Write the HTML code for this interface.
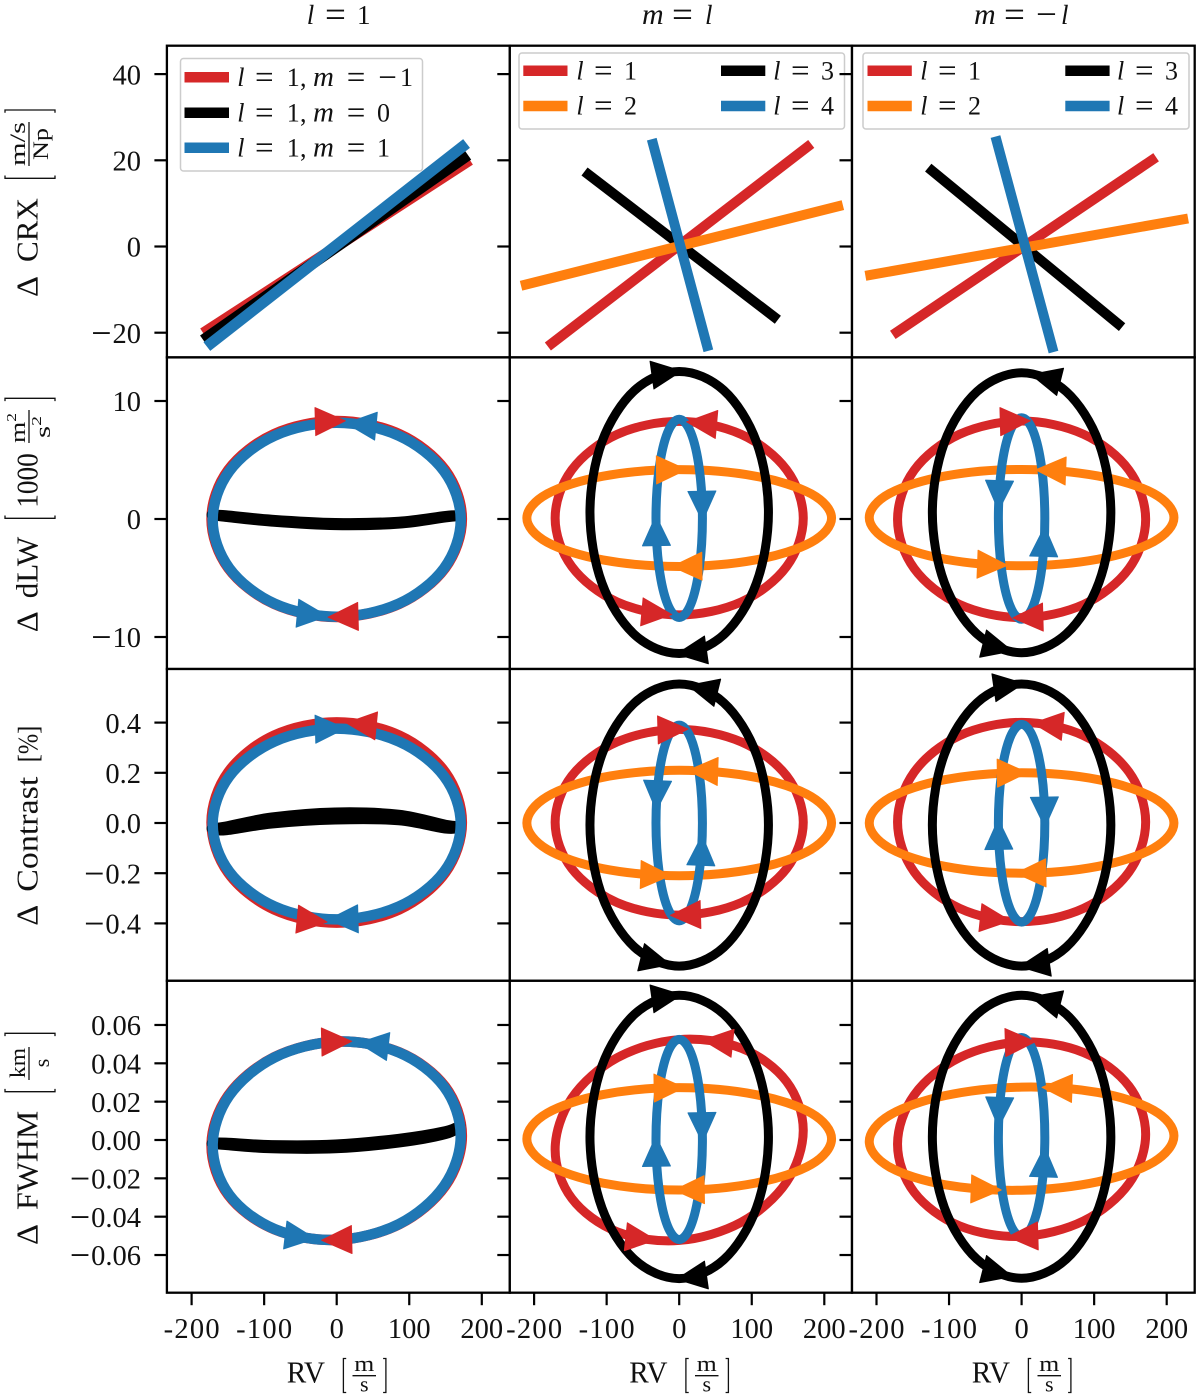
<!DOCTYPE html>
<html lang="en">
<head>
<meta charset="utf-8">
<title>Delta indicators versus RV for spherical harmonic modes</title>
<style>
html,body{margin:0;padding:0;background:#fff;}
svg{display:block;}
text{font-family:"Liberation Serif","DejaVu Serif",serif;fill:#111;}
.lab{font-size:31px;}
.frac{font-size:22px;}
.leg{font-size:26px;}
.leg .eq{font-size:33px;}
.leg .mi{font-size:29px;font-style:italic;}
.ttl{font-size:27px;}
.ttl .eq{font-size:37px;}
.ttl .mi{font-size:30px;font-style:italic;}
.br{fill:none;stroke:#111;stroke-width:1.3;}
.barline{stroke:#111;stroke-width:1.3;}
</style>
</head>
<body>
<svg id="figure" xmlns="http://www.w3.org/2000/svg" width="1200" height="1398" viewBox="0 0 1200 1398">
<rect x="0" y="0" width="1200" height="1398" fill="#fff"/>
<g id="panel-layer"></g>

<g>
<rect x="180.5" y="58.5" width="242" height="112.5" rx="3" fill="#fff" fill-opacity="0.8" stroke="#ccc" stroke-width="1.5"/>
<line x1="184.5" x2="229" y1="77.3" y2="77.3" stroke="#d62728" stroke-width="10.5"/>
<line x1="184.5" x2="229" y1="112.7" y2="112.7" stroke="#000" stroke-width="10.5"/>
<line x1="184.5" x2="229" y1="147.7" y2="147.7" stroke="#1f77b4" stroke-width="10.5"/>
<text class="leg" y="86"><tspan x="237.3" font-style="italic">l</tspan><tspan class="eq" x="255" y="88">=</tspan><tspan x="286.7" y="86">1</tspan><tspan x="300">,</tspan><tspan class="mi" x="313">m</tspan><tspan class="eq" x="346.7" y="88">=</tspan><tspan class="eq" x="378.3" y="88">−</tspan><tspan x="400" y="86">1</tspan></text>
<text class="leg" y="121.7"><tspan x="237.3" font-style="italic">l</tspan><tspan class="eq" x="255" y="123.7">=</tspan><tspan x="286.7" y="121.7">1</tspan><tspan x="300">,</tspan><tspan class="mi" x="313">m</tspan><tspan class="eq" x="346.7" y="123.7">=</tspan><tspan x="377" y="121.7">0</tspan></text>
<text class="leg" y="156.7"><tspan x="237.3" font-style="italic">l</tspan><tspan class="eq" x="255" y="158.7">=</tspan><tspan x="286.7" y="156.7">1</tspan><tspan x="300">,</tspan><tspan class="mi" x="313">m</tspan><tspan class="eq" x="346.7" y="158.7">=</tspan><tspan x="377" y="156.7">1</tspan></text>
</g>

<g>
<rect x="519" y="53" width="325.5" height="76" rx="3" fill="#fff" fill-opacity="0.8" stroke="#ccc" stroke-width="1.5"/>
<line x1="523.3" x2="567.5" y1="70.7" y2="70.7" stroke="#d62728" stroke-width="10.5"/>
<line x1="523.3" x2="567.5" y1="106" y2="106" stroke="#ff7f0e" stroke-width="10.5"/>
<line x1="721" x2="765.3" y1="70.7" y2="70.7" stroke="#000" stroke-width="10.5"/>
<line x1="721" x2="765.3" y1="106" y2="106" stroke="#1f77b4" stroke-width="10.5"/>
<text class="leg" y="79.3"><tspan x="576.4" font-style="italic">l</tspan><tspan class="eq" x="594" y="81.3">=</tspan><tspan x="624" y="79.3">1</tspan></text>
<text class="leg" y="114.7"><tspan x="576.4" font-style="italic">l</tspan><tspan class="eq" x="594" y="116.7">=</tspan><tspan x="624" y="114.7">2</tspan></text>
<text class="leg" y="79.3"><tspan x="773.3" font-style="italic">l</tspan><tspan class="eq" x="791" y="81.3">=</tspan><tspan x="821" y="79.3">3</tspan></text>
<text class="leg" y="114.7"><tspan x="773.3" font-style="italic">l</tspan><tspan class="eq" x="791" y="116.7">=</tspan><tspan x="821" y="114.7">4</tspan></text>
</g>

<g>
<rect x="863" y="53" width="326" height="76" rx="3" fill="#fff" fill-opacity="0.8" stroke="#ccc" stroke-width="1.5"/>
<line x1="867.5" x2="911.8" y1="70.7" y2="70.7" stroke="#d62728" stroke-width="10.5"/>
<line x1="867.5" x2="911.8" y1="106" y2="106" stroke="#ff7f0e" stroke-width="10.5"/>
<line x1="1065.3" x2="1109.6" y1="70.7" y2="70.7" stroke="#000" stroke-width="10.5"/>
<line x1="1065.3" x2="1109.6" y1="106" y2="106" stroke="#1f77b4" stroke-width="10.5"/>
<text class="leg" y="79.3"><tspan x="920.2" font-style="italic">l</tspan><tspan class="eq" x="938" y="81.3">=</tspan><tspan x="968" y="79.3">1</tspan></text>
<text class="leg" y="114.7"><tspan x="920.2" font-style="italic">l</tspan><tspan class="eq" x="938" y="116.7">=</tspan><tspan x="968" y="114.7">2</tspan></text>
<text class="leg" y="79.3"><tspan x="1117" font-style="italic">l</tspan><tspan class="eq" x="1135" y="81.3">=</tspan><tspan x="1165" y="79.3">3</tspan></text>
<text class="leg" y="114.7"><tspan x="1117" font-style="italic">l</tspan><tspan class="eq" x="1135" y="116.7">=</tspan><tspan x="1165" y="114.7">4</tspan></text>
</g>

<g id="tick-layer"></g>

<text class="ttl" y="24"><tspan x="306.7" font-style="italic">l</tspan><tspan class="eq" x="325" y="26.5">=</tspan><tspan x="357" y="24">1</tspan></text>
<text class="ttl" y="24"><tspan class="mi" x="642">m</tspan><tspan class="eq" x="672" y="26.5">=</tspan><tspan x="705" y="24" font-style="italic">l</tspan></text>
<text class="ttl" y="24"><tspan class="mi" x="974">m</tspan><tspan class="eq" x="1004" y="26.5">=</tspan><tspan class="eq" x="1036">−</tspan><tspan x="1061" y="24" font-style="italic">l</tspan></text>

<g>
<text class="lab" transform="translate(37.5,297) rotate(-90)" textLength="21" lengthAdjust="spacingAndGlyphs">Δ</text>
<text class="lab" transform="translate(37.5,262) rotate(-90)" textLength="64" lengthAdjust="spacingAndGlyphs">CRX</text>
<path class="br" d="M5 175.5V178.3H55V175.5"/>
<path class="br" d="M5 112.8V110H55V112.8"/>
<text class="frac" transform="translate(25,144) rotate(-90)" text-anchor="middle" textLength="44" lengthAdjust="spacingAndGlyphs">m/s</text>
<line class="barline" x1="29" x2="29" y1="122" y2="166"/>
<text class="frac" transform="translate(48,144) rotate(-90)" text-anchor="middle" textLength="32" lengthAdjust="spacingAndGlyphs">Np</text>
</g>

<g>
<text class="lab" transform="translate(37.5,632.3) rotate(-90)" textLength="21" lengthAdjust="spacingAndGlyphs">Δ</text>
<text class="lab" transform="translate(37.5,598.3) rotate(-90)" textLength="61.6" lengthAdjust="spacingAndGlyphs">dLW</text>
<path class="br" d="M5 515.5V518.3H55V515.5"/>
<path class="br" d="M5 401.1V398.3H55V401.1"/>
<text class="lab" transform="translate(37.5,507.7) rotate(-90)" textLength="54.4" lengthAdjust="spacingAndGlyphs">1000</text>
<text class="frac" transform="translate(25,443) rotate(-90)" textLength="30" lengthAdjust="spacingAndGlyphs">m<tspan font-size="14" dy="-9">2</tspan></text>
<line class="barline" x1="29" x2="29" y1="410" y2="443"/>
<text class="frac" transform="translate(50,438) rotate(-90)" textLength="22" lengthAdjust="spacingAndGlyphs">s<tspan font-size="14" dy="-9">2</tspan></text>
</g>

<g>
<text class="lab" transform="translate(37.5,925.7) rotate(-90)" textLength="21" lengthAdjust="spacingAndGlyphs">Δ</text>
<text class="lab" transform="translate(37.5,891.7) rotate(-90)" textLength="115" lengthAdjust="spacingAndGlyphs">Contrast</text>
<text class="lab" transform="translate(37.5,762.3) rotate(-90)" style="font-size:28px" textLength="36.6" lengthAdjust="spacingAndGlyphs">[%]</text>
</g>

<g>
<text class="lab" transform="translate(37.5,1245) rotate(-90)" textLength="21" lengthAdjust="spacingAndGlyphs">Δ</text>
<text class="lab" transform="translate(37.5,1210) rotate(-90)" textLength="99.3" lengthAdjust="spacingAndGlyphs">FWHM</text>
<path class="br" d="M5 1088.9V1091.7H55V1088.9"/>
<path class="br" d="M5 1036.1V1033.3H55V1036.1"/>
<text class="frac" transform="translate(25,1063) rotate(-90)" text-anchor="middle" textLength="30" lengthAdjust="spacingAndGlyphs">km</text>
<line class="barline" x1="29" x2="29" y1="1047" y2="1080"/>
<text class="frac" transform="translate(49,1063) rotate(-90)" text-anchor="middle">s</text>
</g>

<g>
<text class="lab" x="286.7" y="1382.7" textLength="38.3" lengthAdjust="spacingAndGlyphs">RV</text>
<path class="br" d="M346.2 1358.5H343.4V1392.5H346.2"/>
<path class="br" d="M383.1 1358.5H385.9V1392.5H383.1"/>
<text class="frac" x="364.3" y="1371" text-anchor="middle" textLength="20" lengthAdjust="spacingAndGlyphs">m</text>
<line class="barline" x1="352.5" x2="376" y1="1375.7" y2="1375.7"/>
<text class="frac" x="364.3" y="1391.5" text-anchor="middle">s</text>
</g>
<g transform="translate(342.5,0)">
<text class="lab" x="286.7" y="1382.7" textLength="38.3" lengthAdjust="spacingAndGlyphs">RV</text>
<path class="br" d="M346.2 1358.5H343.4V1392.5H346.2"/>
<path class="br" d="M383.1 1358.5H385.9V1392.5H383.1"/>
<text class="frac" x="364.3" y="1371" text-anchor="middle" textLength="20" lengthAdjust="spacingAndGlyphs">m</text>
<line class="barline" x1="352.5" x2="376" y1="1375.7" y2="1375.7"/>
<text class="frac" x="364.3" y="1391.5" text-anchor="middle">s</text>
</g>
<g transform="translate(685,0)">
<text class="lab" x="286.7" y="1382.7" textLength="38.3" lengthAdjust="spacingAndGlyphs">RV</text>
<path class="br" d="M346.2 1358.5H343.4V1392.5H346.2"/>
<path class="br" d="M383.1 1358.5H385.9V1392.5H383.1"/>
<text class="frac" x="364.3" y="1371" text-anchor="middle" textLength="20" lengthAdjust="spacingAndGlyphs">m</text>
<line class="barline" x1="352.5" x2="376" y1="1375.7" y2="1375.7"/>
<text class="frac" x="364.3" y="1391.5" text-anchor="middle">s</text>
</g>
</svg>

<script>
/* ---- tick values and labels ---- */
const rvTicks = [-200, -100, 0, 100, 200];
const rvTickLabels = ['-200', '-100', '0', '100', '200'];
const crxTicks = [40, 20, 0, -20];
const crxTickLabels = ['40', '20', '0', '-20'];
const dlwTicks = [10, 0, -10];
const dlwTickLabels = ['10', '0', '-10'];
const contrastTicks = [0.4, 0.2, 0, -0.2, -0.4];
const contrastTickLabels = ['0.4', '0.2', '0.0', '-0.2', '-0.4'];
const fwhmTicks = [0.06, 0.04, 0.02, 0, -0.02, -0.04, -0.06];
const fwhmTickLabels = ['0.06', '0.04', '0.02', '0.00', '-0.02', '-0.04', '-0.06'];

/* ---- CRX straight traces (RV, value) ---- */
const crxRvC1Red = [-184, 183.6];     const crxC1Red = [-20.1, 20.07];
const crxRvC1Black = [-184, 181];     const crxC1Black = [-21.7, 21.2];
const crxRvC1Blue = [-179, 179];      const crxC1Blue = [-23.2, 23.9];
const crxRvC2Red = [-181, 182];       const crxC2Red = [-23.2, 23.8];
const crxRvC2Orange = [-218, 225.6];  const crxC2Orange = [-9.1, 9.6];
const crxRvC2Black = [-130.5, 136];   const crxC2Black = [17.4, -17];
const crxRvC2Blue = [-37.8, 40.2];    const crxC2Blue = [24.9, -24.2];
const crxRvC3Red = [-177.5, 185.4];   const crxC3Red = [-20.5, 20.7];
const crxRvC3Orange = [-215.3, 229.5];const crxC3Orange = [-6.8, 6.5];
const crxRvC3Black = [-128.7, 138.5]; const crxC3Black = [18.3, -18.7];
const crxRvC3Blue = [-36, 44];        const crxC3Blue = [25.5, -24.5];

/* ---- RV samples around each loop ---- */
const rvC1Red = [172.5, 149.4, 86.3, 0, -86.3, -149.4, -172.5, -149.4, -86.3, 0, 86.3, 149.4];
const rvC1Black = [170, 150, 85.5, -2, -89.5, -153, -172, -153, -89.5, -2, 85.5, 150];
const rvL1 = [171, 148, 85.5, 0, -85.5, -148, -171, -148, -85.5, 0, 85.5, 148];
const rvL2 = [210, 182, 105, 0, -105, -182, -210, -182, -105, 0, 105, 182];
const rvL3 = [123, 106.5, 61.5, 0, -61.5, -106.5, -123, -106.5, -61.5, 0, 61.5, 106.5];
const rvL4 = [32, 27.7, 16, 0, -16, -27.7, -32, -27.7, -16, 0, 16, 27.7];

/* ---- dLW loops ---- */
const dlwC1Red = [0, -4.15, -7.19, -8.3, -7.19, -4.15, 0, 4.15, 7.19, 8.3, 7.19, 4.15];
const dlwC1Black = [0.28, 0.24, -0.25, -0.36, -0.08, 0.3, 0.34, 0.2, -0.2, -0.5, -0.37, 0.16];
const dlwC1Blue = [-0.06, 4.05, 7.06, 8.16, 7.06, 4.05, -0.06, -4.17, -7.18, -8.28, -7.18, -4.17];
const dlwC2Red = [0.07, 4.17, 7.17, 8.27, 7.17, 4.17, 0.07, -4.03, -7.03, -8.13, -7.03, -4.03];
const dlwC2Orange = [0.08, -1.97, -3.47, -4.02, -3.47, -1.97, 0.08, 2.13, 3.63, 4.18, 3.63, 2.13];
const dlwC2Black = [0.55, -5.43, -9.8, -11.4, -9.8, -5.43, 0.55, 6.53, 10.9, 12.5, 10.9, 6.53];
const dlwC2Blue = [0.05, -4.15, -7.22, -8.35, -7.22, -4.15, 0.05, 4.25, 7.32, 8.45, 7.32, 4.25];
const dlwC3Red = [-0.03, -4.2, -7.24, -8.36, -7.24, -4.2, -0.03, 4.14, 7.18, 8.3, 7.18, 4.14];
const dlwC3Orange = [0.12, 2.16, 3.65, 4.2, 3.65, 2.16, 0.12, -1.92, -3.41, -3.96, -3.41, -1.92];
const dlwC3Black = [0.53, 6.46, 10.8, 12.39, 10.8, 6.46, 0.53, -5.4, -9.74, -11.33, -9.74, -5.4];
const dlwC3Blue = [0.04, 4.31, 7.44, 8.58, 7.44, 4.31, 0.04, -4.23, -7.36, -8.5, -7.36, -4.23];

/* ---- Contrast loops ---- */
const conC1Red = [0.002, 0.202, 0.348, 0.401, 0.348, 0.202, 0.002, -0.198, -0.344, -0.397, -0.344, -0.198];
const conC1Black = [-0.015, -0.008, 0.032, 0.041, 0.021, -0.015, -0.022, -0.028, -0.001, 0.015, 0.012, -0.021];
const conC1Blue = [-0.004, -0.194, -0.333, -0.384, -0.333, -0.194, -0.004, 0.186, 0.325, 0.376, 0.325, 0.186];
const conC2Red = [0.003, -0.182, -0.317, -0.367, -0.317, -0.182, 0.003, 0.188, 0.323, 0.373, 0.323, 0.188];
const conC2Orange = [0, 0.105, 0.182, 0.21, 0.182, 0.105, 0, -0.105, -0.182, -0.21, -0.182, -0.105];
const conC2Black = [-0.008, 0.273, 0.479, 0.554, 0.479, 0.273, -0.008, -0.289, -0.495, -0.57, -0.495, -0.289];
const conC2Blue = [0, 0.195, 0.338, 0.39, 0.338, 0.195, 0, -0.195, -0.338, -0.39, -0.338, -0.195];
const conC3Red = [0.004, 0.203, 0.348, 0.401, 0.348, 0.203, 0.004, -0.195, -0.34, -0.393, -0.34, -0.195];
const conC3Orange = [0, -0.1, -0.173, -0.2, -0.173, -0.1, 0, 0.1, 0.173, 0.2, 0.173, 0.1];
const conC3Black = [-0.008, -0.289, -0.495, -0.57, -0.495, -0.289, -0.008, 0.273, 0.479, 0.554, 0.479, 0.273];
const conC3Blue = [-0.001, -0.198, -0.342, -0.395, -0.342, -0.198, -0.001, 0.196, 0.34, 0.393, 0.34, 0.196];

/* ---- FWHM loops ---- */
const fwhmC1Red = [0.0022, -0.024, -0.0439, -0.0521, -0.0465, -0.0286, -0.003, 0.0232, 0.0431, 0.0513, 0.0457, 0.0278];
const fwhmC1Black = [0.0075, 0.0045, 0.0005, -0.0025, -0.0028, -0.0015, -0.0017, -0.0025, -0.0042, -0.0042, -0.0012, 0.0032];
const fwhmC1Blue = [0.0022, 0.0278, 0.0457, 0.0513, 0.0431, 0.0232, -0.003, -0.0286, -0.0465, -0.0521, -0.0439, -0.024];
const fwhmC2Red = [0.005, 0.0305, 0.0479, 0.0524, 0.0429, 0.0219, -0.005, -0.0305, -0.0479, -0.0524, -0.0429, -0.0219];
const fwhmC2Orange = [0.0006, -0.0128, -0.0225, -0.0261, -0.0225, -0.0128, 0.0006, 0.014, 0.0237, 0.0273, 0.0237, 0.014];
const fwhmC2Black = [0.0016, -0.0354, -0.0624, -0.0723, -0.0624, -0.0354, 0.0016, 0.0386, 0.0656, 0.0755, 0.0656, 0.0386];
const fwhmC2Blue = [0.0003, -0.0258, -0.0449, -0.0519, -0.0449, -0.0258, 0.0003, 0.0264, 0.0455, 0.0525, 0.0455, 0.0264];
const fwhmC3Red = [0.003, -0.0227, -0.0422, -0.0503, -0.0448, -0.0273, -0.0022, 0.0235, 0.043, 0.0511, 0.0456, 0.0281];
const fwhmC3Orange = [0.0022, 0.0155, 0.0248, 0.0276, 0.0232, 0.0129, -0.0008, -0.0141, -0.0234, -0.0262, -0.0218, -0.0115];
const fwhmC3Black = [0.0017, 0.0386, 0.0656, 0.0755, 0.0656, 0.0386, 0.0017, -0.0352, -0.0622, -0.0721, -0.0622, -0.0352];
const fwhmC3Blue = [0.0015, 0.0275, 0.0465, 0.0535, 0.0465, 0.0275, 0.0015, -0.0245, -0.0435, -0.0505, -0.0435, -0.0245];

/* ---- sample index (along each loop) where direction arrows sit ---- */
const dlwC1RedArrows = [2.9, 8.9];      const dlwC1BlueArrows = [2.62, 8.62];
const dlwC2RedArrows = [2.65, 8.65];    const dlwC2OrangeArrows = [2.9, 8.9];
const dlwC2BlackArrows = [2.73, 8.73];  const dlwC2BlueArrows = [5.76, 11.76];
const dlwC3RedArrows = [2.9, 8.9];      const dlwC3OrangeArrows = [2.63, 8.63];
const dlwC3BlackArrows = [2.48, 8.48];  const dlwC3BlueArrows = [5.56, 11.56];
const conC1RedArrows = [2.62, 8.62];    const conC1BlueArrows = [2.9, 8.9];
const conC2RedArrows = [2.9, 8.9];      const conC2OrangeArrows = [2.7, 8.7];
const conC2BlackArrows = [2.49, 8.49];  const conC2BlueArrows = [5.46, 11.46];
const conC3RedArrows = [2.59, 8.59];    const conC3OrangeArrows = [2.88, 8.88];
const conC3BlackArrows = [2.72, 8.72];  const conC3BlueArrows = [5.78, 11.78];
const fwhmC1RedArrows = [3, 9];         const fwhmC1BlueArrows = [2.43, 8.43];
const fwhmC2RedArrows = [2.4, 8.4];     const fwhmC2OrangeArrows = [2.87, 8.87];
const fwhmC2BlackArrows = [2.73, 8.73]; const fwhmC2BlueArrows = [5.77, 11.77];
const fwhmC3RedArrows = [2.98, 8.98];   const fwhmC3OrangeArrows = [2.55, 8.55];
const fwhmC3BlackArrows = [2.48, 8.48]; const fwhmC3BlueArrows = [5.52, 11.52];

const RED = '#d62728', ORANGE = '#ff7f0e', BLACK = '#000000', BLUE = '#1f77b4';

/* ---- axis functions ---- */
const colEdges = [166.9, 509.8, 852, 1194.7];
const rowEdges = [45.7, 357.4, 669, 980.8, 1292.7];
const colZero = [336.7, 679.2, 1021.6];
const rowZero = [246.5, 519, 823, 1140];
const rowScale = [4.31, 11.8, 251, 1917];
const RV_SCALE = 0.7255;
function xAxis(col, rv) { return colZero[col] + rv * RV_SCALE; }
function yAxis(row, val) { return rowZero[row] - val * rowScale[row]; }

const rowTicks = [
  [crxTicks, crxTickLabels, 'crx'],
  [dlwTicks, dlwTickLabels, 'dlw'],
  [contrastTicks, contrastTickLabels, 'contrast'],
  [fwhmTicks, fwhmTickLabels, 'fwhm']
];

const panels = [
  {row:0, col:0, lines:[[RED,'red',crxRvC1Red,crxC1Red],[BLACK,'black',crxRvC1Black,crxC1Black],[BLUE,'blue',crxRvC1Blue,crxC1Blue]]},
  {row:0, col:1, lines:[[RED,'red',crxRvC2Red,crxC2Red],[BLACK,'black',crxRvC2Black,crxC2Black],[ORANGE,'orange',crxRvC2Orange,crxC2Orange],[BLUE,'blue',crxRvC2Blue,crxC2Blue]]},
  {row:0, col:2, lines:[[RED,'red',crxRvC3Red,crxC3Red],[BLACK,'black',crxRvC3Black,crxC3Black],[ORANGE,'orange',crxRvC3Orange,crxC3Orange],[BLUE,'blue',crxRvC3Blue,crxC3Blue]]},
  {row:1, col:0, loops:[[RED,'red',rvC1Red,dlwC1Red,dlwC1RedArrows],[BLACK,'black',rvC1Black,dlwC1Black,[]],[BLUE,'blue',rvL1,dlwC1Blue,dlwC1BlueArrows]]},
  {row:1, col:1, loops:[[RED,'red',rvL1,dlwC2Red,dlwC2RedArrows],[ORANGE,'orange',rvL2,dlwC2Orange,dlwC2OrangeArrows],[BLACK,'black',rvL3,dlwC2Black,dlwC2BlackArrows],[BLUE,'blue',rvL4,dlwC2Blue,dlwC2BlueArrows]]},
  {row:1, col:2, loops:[[RED,'red',rvL1,dlwC3Red,dlwC3RedArrows],[ORANGE,'orange',rvL2,dlwC3Orange,dlwC3OrangeArrows],[BLACK,'black',rvL3,dlwC3Black,dlwC3BlackArrows],[BLUE,'blue',rvL4,dlwC3Blue,dlwC3BlueArrows]]},
  {row:2, col:0, loops:[[RED,'red',rvC1Red,conC1Red,conC1RedArrows],[BLACK,'black',rvC1Black,conC1Black,[]],[BLUE,'blue',rvL1,conC1Blue,conC1BlueArrows]]},
  {row:2, col:1, loops:[[RED,'red',rvL1,conC2Red,conC2RedArrows],[ORANGE,'orange',rvL2,conC2Orange,conC2OrangeArrows],[BLACK,'black',rvL3,conC2Black,conC2BlackArrows],[BLUE,'blue',rvL4,conC2Blue,conC2BlueArrows]]},
  {row:2, col:2, loops:[[RED,'red',rvL1,conC3Red,conC3RedArrows],[ORANGE,'orange',rvL2,conC3Orange,conC3OrangeArrows],[BLACK,'black',rvL3,conC3Black,conC3BlackArrows],[BLUE,'blue',rvL4,conC3Blue,conC3BlueArrows]]},
  {row:3, col:0, loops:[[RED,'red',rvC1Red,fwhmC1Red,fwhmC1RedArrows],[BLACK,'black',rvC1Black,fwhmC1Black,[]],[BLUE,'blue',rvL1,fwhmC1Blue,fwhmC1BlueArrows]]},
  {row:3, col:1, loops:[[RED,'red',rvL1,fwhmC2Red,fwhmC2RedArrows],[ORANGE,'orange',rvL2,fwhmC2Orange,fwhmC2OrangeArrows],[BLACK,'black',rvL3,fwhmC2Black,fwhmC2BlackArrows],[BLUE,'blue',rvL4,fwhmC2Blue,fwhmC2BlueArrows]]},
  {row:3, col:2, loops:[[RED,'red',rvL1,fwhmC3Red,fwhmC3RedArrows],[ORANGE,'orange',rvL2,fwhmC3Orange,fwhmC3OrangeArrows],[BLACK,'black',rvL3,fwhmC3Black,fwhmC3BlackArrows],[BLUE,'blue',rvL4,fwhmC3Blue,fwhmC3BlueArrows]]}
];

const NS = 'http://www.w3.org/2000/svg';
function make(tag, parent, attrs) {
  const el = document.createElementNS(NS, tag);
  for (const k in attrs) el.setAttribute(k, attrs[k]);
  parent.appendChild(el);
  return el;
}
function f(v) { return v.toFixed(2); }

const panelLayer = document.getElementById('panel-layer');
const tickLayer = document.getElementById('tick-layer');

function loopPoints(p, rv, val) {
  return rv.map(function (r, i) { return [xAxis(p.col, r), yAxis(p.row, val[i])]; });
}
function loopPath(pts) {
  const n = pts.length;
  let d = 'M' + f(pts[0][0]) + ' ' + f(pts[0][1]);
  for (let i = 0; i < n; i++) {
    const a = pts[(i - 1 + n) % n], b = pts[i], c = pts[(i + 1) % n], e = pts[(i + 2) % n];
    d += 'C' + f(b[0] + (c[0] - a[0]) / 6) + ' ' + f(b[1] + (c[1] - a[1]) / 6) + ' ' +
         f(c[0] - (e[0] - b[0]) / 6) + ' ' + f(c[1] - (e[1] - b[1]) / 6) + ' ' +
         f(c[0]) + ' ' + f(c[1]);
  }
  return d + 'Z';
}
function arrowPoints(pts, phase) {
  const n = pts.length;
  const k = Math.floor(phase), t = phase - k;
  const a = pts[(k - 1 + n) % n], b = pts[k % n], c = pts[(k + 1) % n], e = pts[(k + 2) % n];
  const pos = [0, 1].map(function (j) {
    return 0.5 * (2 * b[j] + (c[j] - a[j]) * t + (2 * a[j] - 5 * b[j] + 4 * c[j] - e[j]) * t * t + (-a[j] + 3 * b[j] - 3 * c[j] + e[j]) * t * t * t);
  });
  const der = [0, 1].map(function (j) {
    return 0.5 * ((c[j] - a[j]) + 2 * (2 * a[j] - 5 * b[j] + 4 * c[j] - e[j]) * t + 3 * (-a[j] + 3 * b[j] - 3 * c[j] + e[j]) * t * t);
  });
  /* the reference heads lean less than the curve tangent */
  const ang = Math.atan2(der[1], der[0]);
  const axisAng = Math.round(ang / (Math.PI / 2)) * (Math.PI / 2);
  const shown = axisAng + (ang - axisAng) * 0.6;
  const ux = Math.cos(shown), uy = Math.sin(shown);
  const tip = [pos[0] + 15 * ux, pos[1] + 15 * uy];
  const b1 = [pos[0] - 15 * ux - 14 * uy, pos[1] - 15 * uy + 14 * ux];
  const b2 = [pos[0] - 15 * ux + 14 * uy, pos[1] - 15 * uy - 14 * ux];
  return [tip, b1, b2].map(function (q) { return f(q[0]) + ',' + f(q[1]); }).join(' ');
}

panels.forEach(function (p) {
  const g = make('g', panelLayer, {});
  
  

  const frame = make('rect', g, {
    x: colEdges[p.col], y: rowEdges[p.row],
    width: colEdges[p.col + 1] - colEdges[p.col],
    height: rowEdges[p.row + 1] - rowEdges[p.row],
    fill: '#fff', stroke: '#000', 'stroke-width': 2.3
  });
  
  

  const lineWidth = p.col === 0 ? 11 : 10;
  const loopWidth = p.col === 0 ? 10.5 : 9;

  (p.lines || []).forEach(function (s) {
    const line = make('line', g, {
      x1: f(xAxis(p.col, s[2][0])), y1: f(yAxis(p.row, s[3][0])),
      x2: f(xAxis(p.col, s[2][1])), y2: f(yAxis(p.row, s[3][1])),
      stroke: s[0], 'stroke-width': lineWidth
    });
    
    
  });

  const loops = p.loops || [];
  loops.forEach(function (s) {
    const pts = loopPoints(p, s[2], s[3]);
    const path = make('path', g, {
      d: loopPath(pts), fill: 'none', stroke: s[0],
      'stroke-width': loopWidth, 'stroke-linejoin': 'round'
    });
    
    
  });
  loops.forEach(function (s) {
    const pts = loopPoints(p, s[2], s[3]);
    s[4].forEach(function (phase) {
      const tri = make('polygon', g, {
        points: arrowPoints(pts, phase), fill: s[0], stroke: s[0],
        'stroke-width': 1, 'stroke-linejoin': 'round'
      });
      
      
    });
  });

  /* y ticks, drawn out from the left spine of every column */
  const cfg = rowTicks[p.row];
  cfg[0].forEach(function (v, i) {
    const y = yAxis(p.row, v);
    const tick = make('line', tickLayer, {
      x1: colEdges[p.col] - 12.5, x2: colEdges[p.col], y1: f(y), y2: f(y),
      stroke: '#000', 'stroke-width': 2.2
    });
    
    
    if (p.col === 0) {
      const txt = make('text', tickLayer, {
        x: 141, y: f(y + 10.2), 'text-anchor': 'end', 'font-size': 28.5
      });
      
      
      const label = cfg[1][i];
      if (label.charAt(0) === '-') {
        const minus = make('tspan', txt, {'font-size': 36, dy: 2});
        minus.textContent = '\u2212';
        const rest = make('tspan', txt, {dx: 1, dy: -2});
        rest.textContent = label.slice(1);
      } else {
        txt.textContent = label;
      }
    }
  });

  /* x ticks, bottom row only */
  if (p.row === 3) {
    rvTicks.forEach(function (v, i) {
      const x = xAxis(p.col, v);
      const tick = make('line', tickLayer, {
        x1: f(x), x2: f(x), y1: rowEdges[4], y2: rowEdges[4] + 12.5,
        stroke: '#000', 'stroke-width': 2.2
      });
      
      
      const attrs = {x: f(x), y: 1338, 'text-anchor': 'middle', 'font-size': 28.5};
      if (rvTickLabels[i].charAt(0) === '-') {
        attrs.textLength = 56;
        attrs.lengthAdjust = 'spacing';
      }
      const txt = make('text', tickLayer, attrs);
      
      
      txt.textContent = rvTickLabels[i];
    });
  }
});
</script>
</body>
</html>
